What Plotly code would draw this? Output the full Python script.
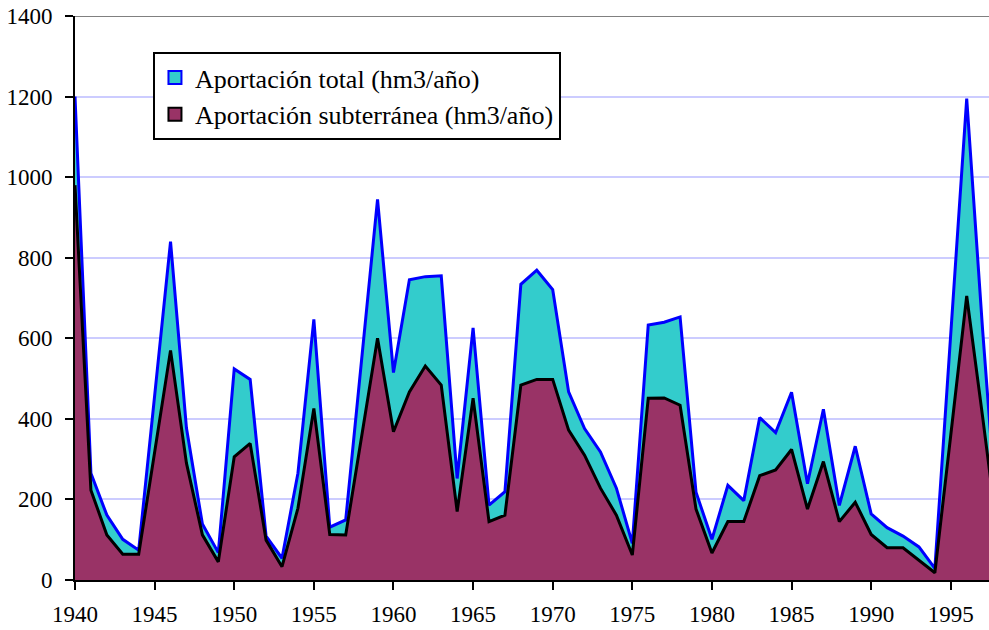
import plotly.graph_objects as go

years = list(range(1940, 1999))
total = [1200, 265, 161, 101, 74, 455, 840, 377, 139, 68, 524, 498, 109, 54, 265, 647,
         131, 149, 547, 945, 515, 745, 753, 755, 252, 626, 186, 219, 734, 769, 721,
         467, 376, 318, 228, 91, 633, 640, 653, 218, 101, 235, 197, 403, 366, 466,
         239, 424, 185, 332, 164, 130, 109, 82, 29, 610, 1195, 620, 100]
sub = [980, 223, 112, 64, 64, 320, 570, 290, 112, 45, 306, 339, 99, 33, 178, 426,
       113, 112, 356, 600, 368, 467, 531, 484, 170, 451, 145, 161, 484, 498, 498,
       372, 310, 228, 161, 62, 451, 452, 434, 176, 67, 145, 145, 259, 273, 324,
       176, 294, 145, 193, 113, 80, 80, 50, 18, 360, 705, 405, 95]

name_total = "Aportación total (hm3/año)"
name_sub = "Aportación subterránea (hm3/año)"
tick_years = list(range(1940, 2000, 5))
y_ticks = list(range(0, 1401, 200))

FONT = "Liberation Serif"
TEAL, BLUE, MAROON, BLACK = "#33CCCC", "#0000FF", "#993366", "#000000"

fig = go.Figure()
fig.add_trace(go.Scatter(x=years, y=total, name=name_total, mode="lines",
                         fill="tozeroy", fillcolor=TEAL, showlegend=False,
                         line=dict(color=BLUE, width=3)))
fig.add_trace(go.Scatter(x=years, y=sub, name=name_sub, mode="lines",
                         fill="tozeroy", fillcolor=MAROON, showlegend=False,
                         line=dict(color=BLACK, width=3)))
# legend entries with square swatches
fig.add_trace(go.Scatter(x=[None], y=[None], name=name_total, mode="markers",
                         marker=dict(symbol="square", size=13, color=TEAL,
                                     line=dict(color=BLUE, width=2))))
fig.add_trace(go.Scatter(x=[None], y=[None], name=name_sub, mode="markers",
                         marker=dict(symbol="square", size=13, color=MAROON,
                                     line=dict(color=BLACK, width=2))))

fig.update_layout(
    width=989, height=630,
    margin=dict(l=75, r=0, t=16, b=50),
    paper_bgcolor="white", plot_bgcolor="white",
    font=dict(family=FONT, size=23, color="black"),
    showlegend=True,
    legend=dict(x=0.0853, y=0.936, xanchor="left", yanchor="top",
                bgcolor="white", bordercolor="black", borderwidth=2,
                font=dict(family=FONT, size=26, color="black"),
                itemwidth=30, tracegroupgap=0,
                traceorder="normal"),
)
fig.update_xaxes(range=[1940, 1997.4], tickvals=tick_years, automargin=False,
                 showgrid=False, zeroline=False,
                 showline=True, linecolor="black", linewidth=2,
                 ticks="outside", ticklen=8, tickwidth=2, tickcolor="black",
                 ticklabelstandoff=4,
                 tickfont=dict(family=FONT, size=23, color="black"))
fig.update_yaxes(range=[0, 1400], tickvals=y_ticks, automargin=False,
                 showgrid=True, gridcolor="#CCCCFF", gridwidth=2,
                 zeroline=False,
                 showline=True, linecolor="black", linewidth=2,
                 ticks="outside", ticklen=8, tickwidth=2, tickcolor="black",
                 ticklabelstandoff=8,
                 tickfont=dict(family=FONT, size=23, color="black"))
fig.add_shape(type="line", xref="paper", yref="y", x0=0, x1=1, y0=1400, y1=1400,
              line=dict(color="#808080", width=2), layer="above")

fig.write_html("out.html", config={"displayModeBar": False},
               post_script="document.body.style.margin='0';document.body.style.overflow='hidden';")
